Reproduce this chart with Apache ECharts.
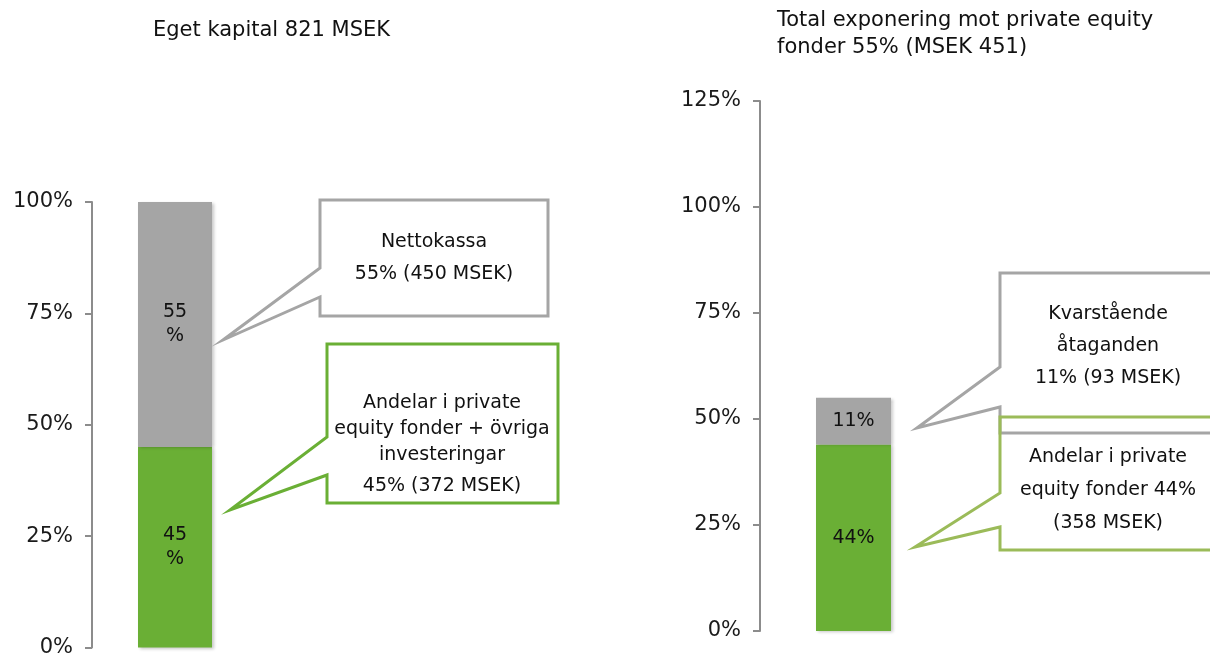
<!DOCTYPE html>
<html><head><meta charset="utf-8">
<script src="https://cdn.jsdelivr.net/npm/echarts@6/dist/echarts.min.js"></script>
<style>html,body{margin:0;padding:0;background:#fff}#c{width:1210px;height:658px}</style>
</head><body><div id="c"></div>
<script>
// Data
const leftCategories = ['Eget kapital'];
const leftGreen = [0.45];   // Andelar i private equity fonder + övriga investeringar
const leftGrey = [0.55];    // Nettokassa
const leftGreenLabel = ['45\n%'];
const leftGreyLabel = ['55\n%'];
const rightCategories = ['Total exponering'];
const rightGreen = [0.44];  // Andelar i private equity fonder
const rightGrey = [0.11];   // Kvarstående åtaganden
const rightGreenLabel = ['44%'];
const rightGreyLabel = ['11%'];
const leftTicks = [0, 0.25, 0.5, 0.75, 1.0];
const rightTicks = [0, 0.25, 0.5, 0.75, 1.0, 1.25];
const titles = ['Eget kapital 821 MSEK', 'Total exponering mot private equity\nfonder 55% (MSEK 451)'];
const callouts = [
  ['Nettokassa', '55% (450 MSEK)'],
  ['Andelar i private', 'equity fonder + övriga', 'investeringar', '45% (372 MSEK)'],
  ['Kvarstående', 'åtaganden', '11% (93 MSEK)'],
  ['Andelar i private', 'equity fonder 44%', '(358 MSEK)']
];

const FONT = 'DejaVu Sans, Verdana, sans-serif';
const GREEN = '#6AAF35', GREY = '#A5A5A5', LGREEN = '#9BBB59', AXIS = '#8C8C8C';
const chart = echarts.init(document.getElementById('c'), null, {renderer: 'canvas'});

function yAxis(gi, max) {
  return {
    type: 'value', gridIndex: gi, min: 0, max: max, interval: 0.25,
    axisLine: {show: true, lineStyle: {color: AXIS, width: 2}},
    axisTick: {show: true, length: 7, lineStyle: {color: AXIS, width: 2}},
    splitLine: {show: false},
    axisLabel: {margin: 19, color: '#1a1a1a', fontFamily: FONT, fontSize: 21,
      formatter: v => Math.round(v * 100) + '%'}
  };
}
function xAxis(gi, cats) {
  return {type: 'category', gridIndex: gi, data: cats, show: false};
}
function bar(name, gi, data, labels, color, stack, bw) {
  return {
    name, type: 'bar', xAxisIndex: gi, yAxisIndex: gi, stack, data,
    barWidth: bw, itemStyle: {color, shadowColor: 'rgba(0,0,0,0.22)', shadowBlur: 3, shadowOffsetX: 2, shadowOffsetY: 1},
    label: {show: true, position: 'inside', color: '#111', fontFamily: FONT, fontSize: 19, lineHeight: 24,
      formatter: p => labels[p.dataIndex]},
    animation: false
  };
}

function callout(x, y, w, h, py1, tx, ty, py2, color, lines, cx, ys) {
  const els = [{
    type: 'polygon', z: 10,
    shape: {points: [[x, y], [x + w, y], [x + w, y + h], [x, y + h], [x, py2], [tx, ty], [x, py1]]},
    style: {fill: 'none', stroke: color, lineWidth: 3, lineJoin: 'miter'}
  }];
  lines.forEach((t, i) => els.push({
    type: 'text', z: 11, x: cx, y: ys[i],
    style: {text: t, fill: '#111', font: '19px ' + FONT, textAlign: 'center', textVerticalAlign: 'middle'}
  }));
  return els;
}

const graphics = [].concat(
  callout(320, 200, 228, 116, 268, 223, 340, 297, GREY, callouts[0], 434, [242, 274]),
  callout(327, 344, 231, 159, 437, 230, 510, 475, GREEN, callouts[1], 442, [403, 429, 455, 486]),
  callout(1000, 273, 230, 160, 367, 917, 428, 407, GREY, callouts[2], 1108, [314, 346, 378]),
  callout(1000, 417, 230, 133, 493, 915, 547, 527, LGREEN, callouts[3], 1108, [457, 490, 523])
);

chart.setOption({
  animation: false,
  title: [
    {text: titles[0], left: 153, top: 20, padding: 0, textStyle: {fontFamily: FONT, fontSize: 21, fontWeight: 'normal', color: '#111'}},
    {text: titles[1], left: 777, top: 7, padding: 0, textStyle: {fontFamily: FONT, fontSize: 21, fontWeight: 'normal', color: '#111', lineHeight: 27}}
  ],
  grid: [
    {left: 92, top: 202, width: 166, height: 450},
    {left: 760, top: 101, width: 187, height: 530}
  ],
  xAxis: [xAxis(0, leftCategories), xAxis(1, rightCategories)],
  yAxis: [yAxis(0, 1.0), yAxis(1, 1.25)],
  series: [
    bar('Andelar', 0, leftGreen, leftGreenLabel, GREEN, 'a', 74),
    bar('Nettokassa', 0, leftGrey, leftGreyLabel, GREY, 'a', 74),
    bar('Andelar PE', 1, rightGreen, rightGreenLabel, GREEN, 'b', 75),
    bar('Kvarstående', 1, rightGrey, rightGreyLabel, GREY, 'b', 75)
  ],
  graphic: graphics
});
</script></body></html>
